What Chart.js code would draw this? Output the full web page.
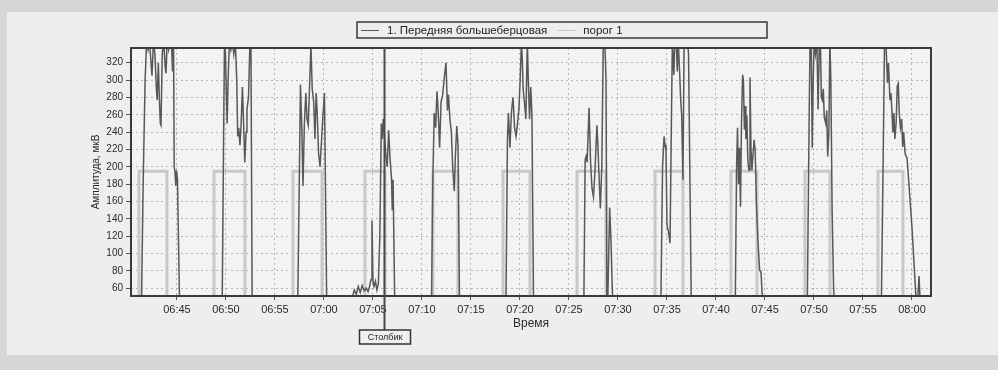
<!DOCTYPE html>
<html>
<head>
<meta charset="utf-8">
<title>Амплитуда, мкВ</title>
<script src="https://cdn.jsdelivr.net/npm/chart.js@4.4.1/dist/chart.umd.min.js"></script>
<style>
  html, body { margin: 0; padding: 0; background: #d8d8d8; }
  #wrap { width: 998px; height: 370px; }
</style>
</head>
<body>
<div id="wrap"><canvas id="emgChart" width="998" height="370"></canvas></div>
<script>
// time is in minutes after 06:40
const tickTimes = [5, 10, 15, 20, 25, 30, 35, 40, 45, 50, 55, 60, 65, 70, 75, 80];
const tickLabels = ['06:45', '06:50', '06:55', '07:00', '07:05', '07:10', '07:15', '07:20',
                    '07:25', '07:30', '07:35', '07:40', '07:45', '07:50', '07:55', '08:00'];
const yTicks = [60, 80, 100, 120, 140, 160, 180, 200, 220, 240, 260, 280, 300, 320];

// 1. Передняя большеберцовая (values under 51 fall below the axis)
const emgTime = [
  1.35, 1.55, 1.75, 1.9, 2.05, 2.2, 2.35, 2.45, 2.6, 2.75, 2.9, 2.98, 3.1, 3.2, 3.3, 3.37, 3.5, 3.65, 3.8, 3.88, 4.0, 4.15, 4.3, 4.45, 4.55, 4.65, 4.72, 4.8, 4.88, 4.95, 5.05, 5.3,
  9.6, 9.75, 9.85, 9.95, 10.05, 10.12, 10.22, 10.35, 10.5, 10.65, 10.8, 10.95, 11.1, 11.2, 11.3, 11.43, 11.55, 11.68, 11.8, 11.92, 12.05, 12.14, 12.3, 12.45, 12.55, 12.68,
  17.3, 17.5, 17.6, 17.75, 17.86, 18.0, 18.15, 18.27, 18.4, 18.55, 18.67, 18.8, 18.95, 19.08, 19.2, 19.3, 19.45, 19.6, 19.75, 19.9, 20.05, 20.3,
  22.5, 22.9, 23.1, 23.3, 23.5, 23.7, 23.9, 24.1, 24.3, 24.5, 24.65, 24.8, 24.9, 25.0, 25.1, 25.25, 25.4, 25.55, 25.7, 25.85, 25.95, 26.05, 26.15, 26.3, 26.45, 26.6, 26.75, 26.9, 26.97, 27.05, 27.25,
  30.95, 31.1, 31.25, 31.4, 31.53, 31.65, 31.8, 31.95, 32.1, 32.3, 32.45, 32.6, 32.7, 32.85, 33.0, 33.15, 33.3, 33.4, 33.55, 33.68, 33.85,
  38.55, 38.72, 38.82, 38.98, 39.12, 39.29, 39.45, 39.6, 39.75, 39.9, 40.05, 40.15, 40.25, 40.32, 40.45, 40.6, 40.75, 40.85, 40.98, 41.1, 41.22, 41.4,
  46.5, 46.65, 46.75, 46.85, 47.05, 47.2, 47.35, 47.5, 47.65, 47.85, 47.95, 48.05, 48.2, 48.35, 48.5, 48.65, 48.78, 48.88, 48.95, 49.15, 49.3, 49.4, 49.55,
  54.35, 54.55, 54.7, 54.8, 54.9, 55.0, 55.15, 55.31, 55.45, 55.55, 55.7, 55.8, 55.95, 56.05, 56.15, 56.3, 56.4, 56.5, 56.63, 56.75, 56.9, 57.1, 57.2, 57.5,
  61.95, 62.1, 62.2, 62.3, 62.4, 62.5, 62.6, 62.72, 62.8, 62.9, 62.98, 63.05, 63.15, 63.25, 63.37, 63.47, 63.57, 63.67, 63.78, 63.9, 64.0, 64.12, 64.3, 64.45, 64.6, 64.85,
  69.3, 69.5, 69.6, 69.72, 69.82, 69.92, 70.02, 70.15, 70.3, 70.42, 70.55, 70.65, 70.75, 70.85, 70.95, 71.05, 71.2, 71.3, 71.4, 71.52, 71.62, 71.72, 71.85, 72.0, 72.15,
  76.85, 77.05, 77.2, 77.35, 77.5, 77.6, 77.75, 77.85, 77.95, 78.05, 78.15, 78.25, 78.38, 78.5, 78.6, 78.7, 78.82, 78.95, 79.05, 79.15, 79.3, 79.5, 80.0, 80.45, 80.6, 80.72, 80.85
];
const emgAmp = [
  20, 180, 300, 345, 335, 345, 320, 305, 345, 330, 290, 277, 320, 280, 250, 248, 330, 345, 315, 308, 345, 335, 345, 340, 310, 345, 200, 194, 178, 196, 186, 20,
  20, 220, 345, 330, 280, 250, 300, 345, 335, 345, 330, 345, 300, 235, 245, 225, 250, 292, 250, 205, 240, 266, 280, 345, 340, 20,
  20, 200, 295, 240, 178, 250, 285, 255, 248, 300, 340, 290, 275, 232, 285, 265, 215, 200, 230, 260, 285, 20,
  20, 50, 58, 53, 62, 55, 63, 57, 60, 56, 62, 70, 138, 68, 62, 68, 58, 65, 120, 250, 232, 255, 240, 215, 200, 242, 208, 185, 150, 185, 20,
  20, 180, 262, 245, 287, 265, 222, 275, 282, 305, 320, 265, 283, 255, 240, 196, 172, 210, 247, 225, 20,
  20, 230, 262, 222, 262, 280, 245, 235, 250, 268, 310, 345, 320, 290, 275, 255, 345, 300, 255, 292, 260, 20,
  20, 208, 212, 205, 268, 206, 175, 165, 195, 248, 225, 194, 152, 200, 345, 345, 300, 20, 40, 153, 110, 65, 20,
  20, 200, 235, 225, 219, 133, 125, 112, 250, 345, 306, 345, 345, 310, 345, 306, 277, 260, 185, 345, 345, 345, 330, 20,
  20, 200, 245, 180, 222, 154, 250, 306, 300, 243, 270, 232, 259, 208, 196, 303, 222, 196, 215, 231, 218, 160, 110, 81, 78, 20,
  20, 250, 345, 345, 222, 300, 345, 330, 345, 266, 345, 345, 280, 277, 290, 257, 250, 265, 212, 240, 345, 300, 150, 60, 20,
  20, 200, 345, 340, 297, 320, 277, 285, 265, 240, 262, 232, 250, 293, 296, 262, 245, 255, 223, 240, 215, 210, 130, 40, 50, 74, 40
];

// порог 1: on / off times of each threshold pulse
const thrStart = [1.12, 8.78, 16.84, 24.18, 31.12, 38.27, 45.82, 53.78, 61.53, 69.08, 76.53];
const thrEnd   = [3.98, 11.94, 19.80, 26.22, 33.67, 41.02, 48.78, 56.63, 64.18, 71.63, 79.08];
const thrLevel = 195;
const thrLow = 0;

const cursorTime = 26.1;
const cursorLabel = 'Столбик';

const emgPoints = emgTime.map((t, i) => ({ x: t, y: emgAmp[i] }));
const thrPoints = [];
thrStart.forEach((s, i) => {
  thrPoints.push({ x: s, y: thrLow }, { x: s, y: thrLevel }, { x: thrEnd[i], y: thrLevel }, { x: thrEnd[i], y: thrLow });
});

const FONT = '"Liberation Sans", Arial, sans-serif';

const decorPlugin = {
  id: 'decor',
  beforeDraw(chart) {
    const c = chart.ctx, a = chart.chartArea;
    c.save();
    c.fillStyle = '#d6d6d6';
    c.fillRect(0, 0, chart.width, chart.height);
    c.fillStyle = '#eeeeee';
    c.fillRect(7, 12, chart.width - 7, 343);
    c.fillStyle = '#f3f3f3';
    c.fillRect(a.left, a.top, a.right - a.left, a.bottom - a.top);
    c.restore();
  },
  afterDraw(chart) {
    const c = chart.ctx, a = chart.chartArea;
    c.save();
    // plot frame
    c.strokeStyle = '#3a3a3a';
    c.lineWidth = 2;
    c.strokeRect(a.left, a.top, a.right - a.left, a.bottom - a.top);

    // cursor line with its label
    const cx = Math.round(chart.scales.x.getPixelForValue(cursorTime)) + 0.5;
    c.strokeStyle = '#4a4a4a';
    c.lineWidth = 2;
    c.beginPath();
    c.moveTo(cx, a.top);
    c.lineTo(cx, 330);
    c.stroke();
    c.fillStyle = '#f0f0f0';
    c.fillRect(cx - 25, 330, 51, 14);
    c.strokeStyle = '#333';
    c.lineWidth = 1.5;
    c.strokeRect(cx - 25, 330, 51, 14);
    c.fillStyle = '#222';
    c.font = '9px ' + FONT;
    c.textAlign = 'center';
    c.textBaseline = 'middle';
    c.fillText(cursorLabel, cx + 0.5, 337.5);

    // legend box
    const lx = 357, ly = 22, lw = 410, lh = 16;
    c.strokeStyle = '#3a3a3a';
    c.lineWidth = 1.5;
    c.strokeRect(lx, ly, lw, lh);
    c.font = '11.5px ' + FONT;
    c.textAlign = 'left';
    let x = lx + 4;
    const my = ly + lh / 2 + 0.5;
    chart.data.datasets.forEach((ds, i) => {
      c.strokeStyle = ds.borderColor;
      c.lineWidth = 1;
      c.beginPath();
      c.moveTo(x, my);
      c.lineTo(x + 18, my);
      c.stroke();
      c.fillStyle = '#222';
      c.fillText(ds.label, x + 26, my);
      x += 26 + c.measureText(ds.label).width + 10;
    });
    c.restore();
  }
};

new Chart(document.getElementById('emgChart'), {
  type: 'line',
  data: {
    datasets: [{
      label: '1. Передняя большеберцовая',
      data: emgPoints,
      borderColor: '#585858',
      borderWidth: 1.5,
      pointRadius: 0,
      tension: 0,
      order: 0
    }, {
      label: 'порог 1',
      data: thrPoints,
      borderColor: '#c8c8c8',
      borderWidth: 3,
      pointRadius: 0,
      tension: 0,
      order: 1
    }]
  },
  options: {
    responsive: false,
    animation: false,
    layout: { padding: { left: 90, right: 67, top: 48, bottom: 39 } },
    plugins: {
      legend: { display: false },
      tooltip: { enabled: false }
    },
    scales: {
      x: {
        type: 'linear',
        min: 0.31,
        max: 81.94,
        afterBuildTicks: (scale) => { scale.ticks = tickTimes.map(v => ({ value: v })); },
        afterFit: (scale) => { scale.height = 35; },
        ticks: {
          autoSkip: false,
          maxRotation: 0,
          padding: 3,
          color: '#2a2a2a',
          font: { family: FONT, size: 11 },
          callback: (v, i) => tickLabels[i]
        },
        grid: { color: '#b5b5b5', tickColor: '#555', tickLength: 4, lineWidth: 1 },
        border: { display: false, dash: [2, 3] },
        title: {
          display: true,
          text: 'Время',
          color: '#2a2a2a',
          font: { family: FONT, size: 12 },
          padding: 0
        }
      },
      y: {
        min: 51,
        max: 337,
        afterBuildTicks: (scale) => { scale.ticks = yTicks.map(v => ({ value: v })); },
        afterFit: (scale) => { scale.width = 41; },
        ticks: {
          padding: 3,
          color: '#2a2a2a',
          font: { family: FONT, size: 10 }
        },
        grid: { color: '#b5b5b5', tickColor: '#555', tickLength: 5, lineWidth: 1 },
        border: { display: false, dash: [2, 3] },
        title: {
          display: true,
          text: 'Амплитуда, мкВ',
          color: '#2a2a2a',
          font: { family: FONT, size: 10 },
          padding: 0
        }
      }
    }
  },
  plugins: [decorPlugin]
});
</script>
</body>
</html>
